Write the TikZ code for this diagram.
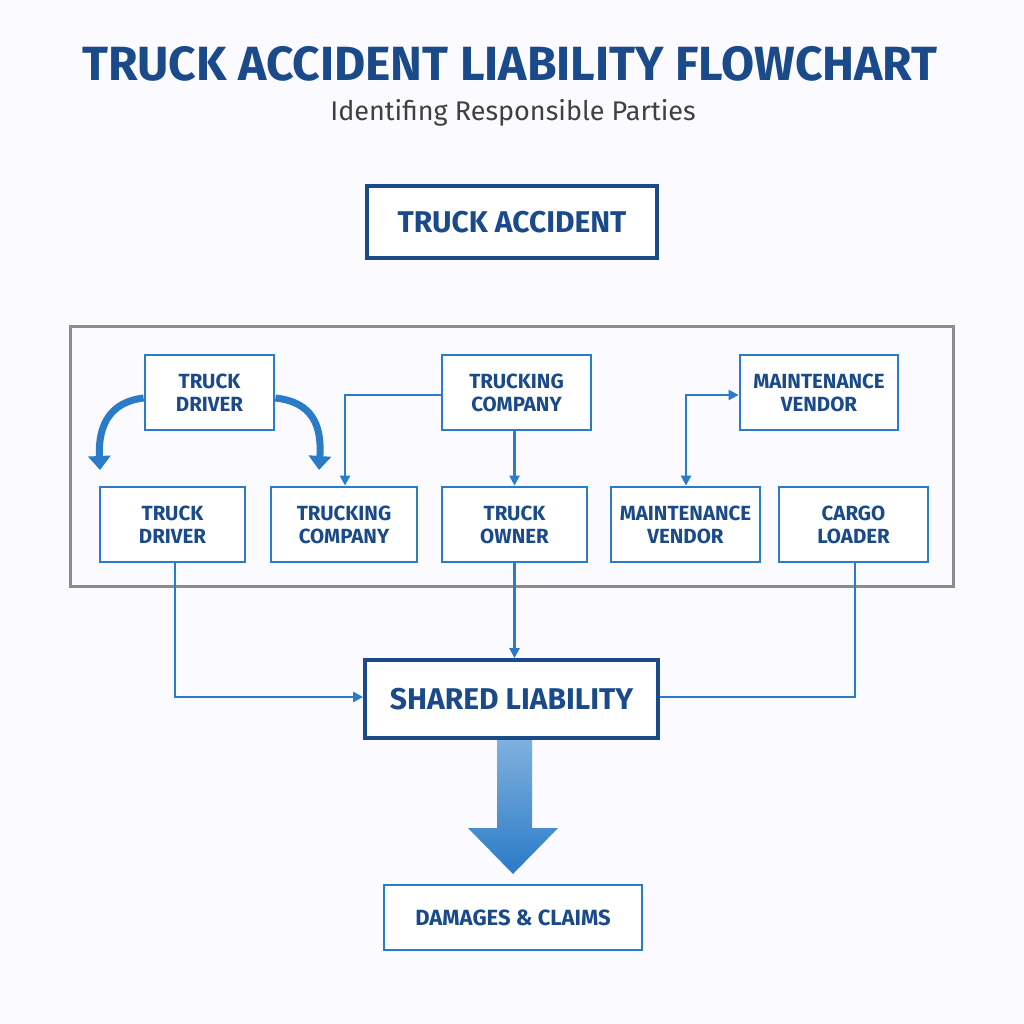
\documentclass[tikz,border=0pt]{standalone}
\usepackage{fontspec}
\setmainfont{Fira Sans}
\usetikzlibrary{arrows.meta}
\definecolor{dblue}{HTML}{1A4A8A}
\definecolor{mblue}{HTML}{2A7BC8}
\definecolor{gbox}{HTML}{8C8C8C}
\begin{document}
\begin{tikzpicture}[x=1pt,y=-1pt,
  box/.style={draw=mblue,line width=2.8pt,fill=white,text=dblue,font=\fontsize{20.5}{23}\selectfont\bfseries,align=center,inner sep=0pt},
  big/.style={draw=dblue,line width=3.8pt,fill=white,text=dblue,font=\fontsize{30}{32}\selectfont\bfseries,inner sep=0pt},
  con/.style={draw=mblue,line width=2.4pt},
  arr/.style={con,-{Triangle[length=10pt,width=10pt]}},
  curv/.style={draw=mblue,line width=7pt,-{Triangle[length=14pt,width=22pt]}}]
\useasboundingbox (0,0) rectangle (1024,1024);
\fill[white!98!blue] (0,0) rectangle (1024,1024);
\node[text=dblue,font=\fontsize{48}{52}\selectfont\bfseries] (title) at (510,64) {TRUCK ACCIDENT LIABILITY FLOWCHART};
\node[text=black!75,font=\fontsize{27}{30}\selectfont] (sub) at (513,113) {Identifing Responsible Parties};
\node[big,minimum width=290pt,minimum height=72pt] (acc) at (512,222) {TRUCK ACCIDENT};
\node[draw=gbox,line width=3pt,minimum width=883pt,minimum height=260pt,inner sep=0pt] (cont) at (511.5,456) {};
\node[box,minimum width=129pt,minimum height=75pt] (td1) at (209.5,392.5) {TRUCK\\DRIVER};
\node[box,minimum width=149pt,minimum height=75pt] (tc1) at (516.5,392.5) {TRUCKING\\COMPANY};
\node[box,minimum width=158pt,minimum height=75pt] (mv1) at (819,392.5) {MAINTENANCE\\VENDOR};
\node[box,minimum width=145pt,minimum height=75pt] (td2) at (172.5,524.5) {TRUCK\\DRIVER};
\node[box,minimum width=146pt,minimum height=75pt] (tc2) at (344,524.5) {TRUCKING\\COMPANY};
\node[box,minimum width=145pt,minimum height=75pt] (to) at (514.5,524.5) {TRUCK\\OWNER};
\node[box,minimum width=149pt,minimum height=75pt] (mv2) at (685.5,524.5) {MAINTENANCE\\VENDOR};
\node[box,minimum width=149pt,minimum height=75pt] (cl) at (853.5,524.5) {CARGO\\LOADER};
\node[big,minimum width=293pt,minimum height=78pt] (sl) at (511.5,699) {SHARED LIABILITY};
\node[box,minimum width=258pt,minimum height=65pt,font=\fontsize{22}{24}\selectfont\bfseries] (dc) at (513,917.5) {DAMAGES \& CLAIMS};
\draw[curv] (td1.west|-0,398) .. controls (110,402) and (98,425) .. (100,470);
\draw[curv] (td1.east|-0,398) .. controls (312,402) and (322,425) .. (319,470);
\coordinate (a1) at (345,395);
\draw[arr] (tc1.west|-a1) -- (a1) -- (a1|-tc2.north);
\draw[arr] (tc1.south-|to) -- (to.north);
\coordinate (m1) at (686,395);
\draw[con,{Triangle[length=10pt,width=10pt]}-{Triangle[length=10pt,width=10pt]}] (m1|-mv2.north) -- (m1) -- (mv1.west|-m1);
\coordinate (b1) at (175,697);
\draw[arr] (b1|-td2.south) -- (b1) -- (sl.west|-b1);
\draw[arr] (to.south) -- (sl.north-|to);
\coordinate (b2) at (855,697);
\draw[con] (b2|-cl.south) -- (b2) -- (sl.east|-b2);
\shade[top color=mblue!60!white,bottom color=mblue] (497,740) -- (532,740) -- (532,828) -- (558,828) -- (513,874) -- (468,828) -- (497,828) -- cycle;
\end{tikzpicture}
\end{document}
